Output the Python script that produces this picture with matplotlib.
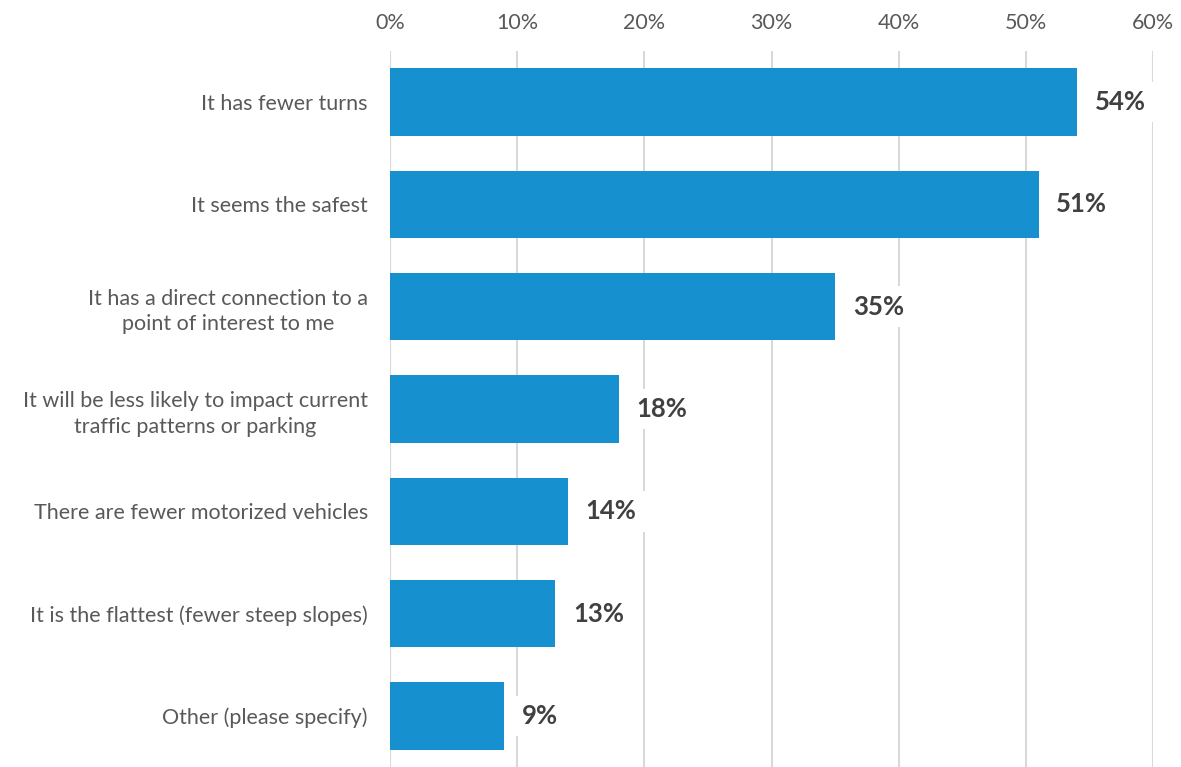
import matplotlib
matplotlib.use("Agg")
import matplotlib.pyplot as plt

plt.rcParams["font.family"] = ["Lato", "DejaVu Sans"]

reasons = [
    "It has fewer turns",
    "It seems the safest",
    "It has a direct connection to a\npoint of interest to me",
    "It will be less likely to impact current\ntraffic patterns or parking",
    "There are fewer motorized vehicles",
    "It is the flattest (fewer steep slopes)",
    "Other (please specify)",
]
shares = [54, 51, 35, 18, 14, 13, 9]
ticks = [0, 10, 20, 30, 40, 50, 60]

fig = plt.figure(figsize=(11.81, 7.67), dpi=100)
ax = fig.add_axes([390 / 1181, 0, (1153 - 390) / 1181, 1 - 51 / 767])

ypos = list(range(len(reasons)))
ax.barh(ypos, shares, height=0.66, color="#1790cf", zorder=2)
ax.set_ylim(len(reasons) - 0.5, -0.5)
ax.set_xlim(0, 60)

ax.set_xticks(ticks)
ax.set_xticklabels([f"{t}%" for t in ticks])
ax.xaxis.tick_top()
ax.tick_params(axis="x", length=0, pad=13, labelsize=15.5, labelcolor="#595959")
ax.set_yticks(ypos)
ax.set_yticklabels(reasons, fontsize=15.5, color="#595959")
ax.tick_params(axis="y", length=0, pad=16)
for lbl in ax.get_yticklabels():
    lbl.set_horizontalalignment("right")
    lbl.set_multialignment("center")
    lbl.set_linespacing(1.35)

ax.grid(axis="x", color="#d9d9d9", linewidth=1.5, zorder=0)
for s in ax.spines.values():
    s.set_visible(False)

for y, v in zip(ypos, shares):
    ax.text(v + 1.4, y, f"{v}%", va="center", ha="left", fontsize=18.5,
            fontweight="bold", color="#404040", zorder=3,
            bbox=dict(facecolor="white", edgecolor="none", pad=6))

fig.savefig("out.png", dpi=100)
